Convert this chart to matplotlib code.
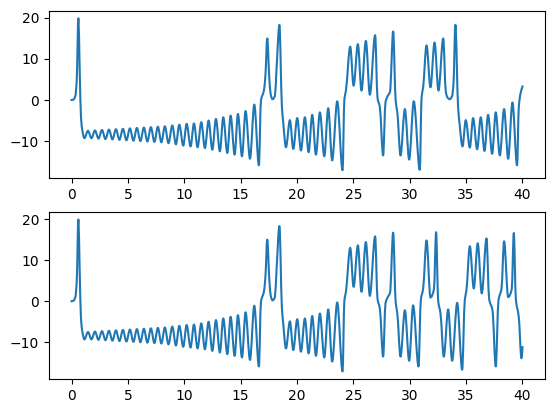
import matplotlib
matplotlib.use("Agg")
import matplotlib.pyplot as plt
from matplotlib.path import Path
from matplotlib.patches import PathPatch
import numpy as np

# values (time, x) - shared part of both runs
t_common = [0.0, 0.16, 0.34, 0.46, 0.61, 0.72, 0.84, 0.96, 1.14,
            1.46, 1.77, 2.08, 2.39, 2.70, 3.01, 3.32, 3.63, 3.94, 4.25,
            4.56, 4.87, 5.18, 5.49, 5.80, 6.11, 6.42, 6.73, 7.04, 7.35,
            7.66, 7.97, 8.28, 8.60, 8.94, 9.26, 9.56, 9.91, 10.21, 10.56,
            10.86, 11.18, 11.51, 11.83, 12.16, 12.49, 12.81, 13.16, 13.46, 13.82,
            14.11, 14.47, 14.76, 15.12, 15.44, 15.83, 16.21, 16.62,
            16.80, 17.07, 17.20, 17.36, 17.54, 17.66, 17.83, 18.04, 18.19, 18.44,
            18.66, 18.78, 19.02,
            19.37, 19.67, 20.02, 20.35, 20.70, 21.03, 21.35, 21.68, 22.03, 22.42,
            22.77, 23.12, 23.57, 24.04,
            24.20, 24.35, 24.72, 25.02, 25.40, 25.72, 26.11, 26.46, 26.93, 27.14,
            27.35, 27.64, 27.85, 28.05, 28.25, 28.53, 28.75, 28.90, 29.18, 29.57,
            29.95]
x_common = [0.0, 0.1, 1.0, 4.7, 19.9, 7.9, -4.2, -7.4, -9.3,
            -7.5, -9.3, -7.4, -9.4, -7.3, -9.5, -7.2, -9.6, -7.1, -9.7,
            -7.0, -9.8, -6.9, -9.9, -6.8, -10.0, -6.7, -10.1, -6.6, -10.2,
            -6.5, -10.3, -6.4, -10.5, -6.2, -10.8, -6.0, -11.1, -5.8, -11.3,
            -5.7, -11.5, -5.4, -11.7, -5.0, -12.1, -4.6, -12.5, -4.2, -12.9,
            -3.8, -13.3, -3.4, -13.7, -2.7, -14.3, -1.1, -15.9,
            -0.2, 2.4, 6.0, 15.0, 5.5, 1.5, 0.2, 1.0, 7.9, 18.3,
            -1.5, -5.5, -11.5,
            -4.9, -11.9, -4.4, -12.3, -4.2, -12.7, -3.6, -13.3, -3.0, -13.7,
            -2.0, -14.7, -0.3, -17.1,
            0.0, 2.5, 13.0, 3.5, 13.6, 2.3, 14.4, 1.3, 15.8, 0.6,
            -1.8, -13.5, -0.5, 1.0, 2.0, 16.7, -0.2, -3.0, -13.5, -2.2,
            -14.5]

# where the two runs part ways
t_top = [30.36, 30.89, 31.05, 31.19, 31.49, 31.84, 32.20, 32.55, 32.97, 33.20,
         33.35, 33.55, 33.76, 33.88, 34.05, 34.29, 34.42, 34.68, 34.97, 35.33,
         35.62, 35.98, 36.30, 36.63, 36.95, 37.31, 37.63, 37.99, 38.37, 38.73,
         39.11, 39.52, 39.67, 39.82, 40.0]
x_top = [-0.3, -17.0, 0.6, 3.1, 13.3, 3.1, 14.0, 2.3, 15.0, 2.0,
         0.6, 0.2, 1.0, 4.0, 18.3, -1.8, -5.8, -11.3, -4.9, -11.6,
         -4.4, -12.0, -4.2, -12.4, -3.6, -13.1, -3.0, -13.5, -2.2, -14.3,
         -0.6, -15.9, -1.8, 1.5, 3.3]

t_bottom = [30.30, 30.78, 30.98, 31.19, 31.49, 31.84, 32.15, 32.34, 32.52, 32.73,
            33.02, 33.41, 33.76, 34.21, 34.65, 34.88, 35.03, 35.33, 35.68, 36.03,
            36.39, 36.81, 37.04, 37.34, 37.63, 37.87, 38.14, 38.37, 38.73, 39.05,
            39.23, 39.41, 39.67, 39.91, 40.0]
x_bottom = [-1.0, -15.9, 0.2, 3.1, 14.8, 0.9, 3.0, 16.8, 0.2, -3.0,
            -13.5, -2.0, -14.5, -0.4, -16.7, 0.2, 2.7, 13.4, 3.1, 14.1,
            1.9, 15.3, 0.6, -2.2, -15.9, 0.2, 3.1, 14.6, 1.0, 3.0,
            16.6, 0.6, -3.8, -13.9, -11.2]


def smooth_path(t, x):
    # monotone cubic (bezier) through the read points, flat at the extrema
    t = np.asarray(t, float)
    x = np.asarray(x, float)
    h = np.diff(t)
    delta = np.diff(x) / h
    d = np.zeros_like(x)
    for k in range(1, len(x) - 1):
        if delta[k - 1] * delta[k] > 0:
            w1 = 2 * h[k] + h[k - 1]
            w2 = h[k] + 2 * h[k - 1]
            d[k] = (w1 + w2) / (w1 / delta[k - 1] + w2 / delta[k])
    d[0] = delta[0]
    d[-1] = delta[-1]
    verts = [(t[0], x[0])]
    codes = [Path.MOVETO]
    for k in range(len(h)):
        verts += [(t[k] + h[k] / 3, x[k] + d[k] * h[k] / 3),
                  (t[k + 1] - h[k] / 3, x[k + 1] - d[k + 1] * h[k] / 3),
                  (t[k + 1], x[k + 1])]
        codes += [Path.CURVE4] * 3
    return Path(verts, codes)


fig, (ax1, ax2) = plt.subplots(2, 1, figsize=(5.54, 4.13), dpi=100)
fig.subplots_adjust(left=0.0884, right=0.9838, top=0.974, bottom=0.0823, hspace=0.204)

for ax, t_end, x_end in [(ax1, t_top, x_top), (ax2, t_bottom, x_bottom)]:
    tt = t_common + t_end
    xx = x_common + x_end
    ax.add_patch(PathPatch(smooth_path(tt, xx), fill=False, edgecolor='C0', lw=1.5,
                           capstyle='projecting', joinstyle='round'))
    ax.plot(tt, xx, alpha=0)  # keeps default autoscaling
    ax.autoscale_view()

fig.savefig("out.png", dpi=100)
